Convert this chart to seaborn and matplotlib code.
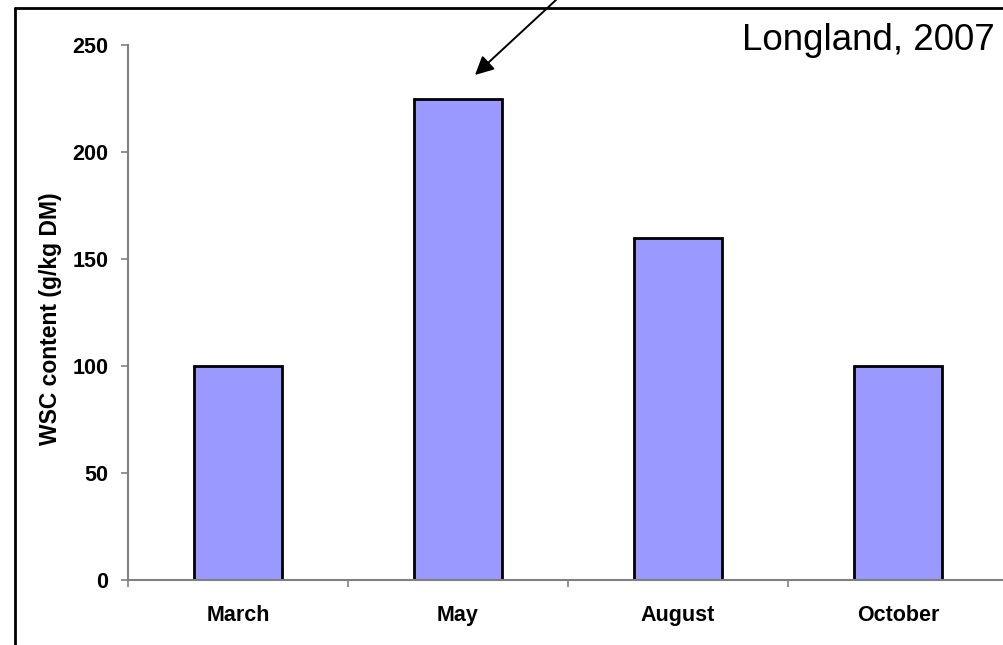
import matplotlib
matplotlib.use("Agg")
import matplotlib.pyplot as plt
from matplotlib.lines import Line2D
from matplotlib.ticker import FixedLocator
import seaborn as sns
import pandas as pd

months = ["March", "May", "August", "October"]
wsc = [100, 225, 160, 100]
y_ticks = [0, 50, 100, 150, 200, 250]

sns.set_theme(style="white")
plt.rcParams["font.family"] = ["Liberation Sans", "DejaVu Sans"]

W, H = 1004, 645
fig = plt.figure(figsize=(W / 100, H / 100), dpi=100)
ax = fig.add_axes([128 / W, 1 - 580 / H, 880 / W, 535 / H])

df = pd.DataFrame({"month": months, "wsc": wsc})
sns.barplot(data=df, x="month", y="wsc", color="#9999ff", saturation=1,
            width=0.4, edgecolor="black", linewidth=2, ax=ax)

ax.set_xlim(-0.5, 3.5)
ax.set_ylim(0, 250)
ax.set_yticks(y_ticks)
ax.set_yticklabels([str(t) for t in y_ticks], fontsize=15.5, fontweight="bold")
ax.set_xticks(range(len(months)))
ax.set_xticklabels(months, fontsize=15.5, fontweight="bold")
ax.xaxis.set_minor_locator(FixedLocator([-0.5, 0.5, 1.5, 2.5, 3.5]))

gray = "#808080"
for side in ("top", "right"):
    ax.spines[side].set_visible(False)
for side in ("left", "bottom"):
    ax.spines[side].set_color(gray)
    ax.spines[side].set_linewidth(1.5)

ax.tick_params(axis="y", which="major", left=True, length=5, width=1.2,
               color=gray, pad=9, labelcolor="black")
ax.tick_params(axis="x", which="major", bottom=True, length=0, pad=18,
               labelcolor="black")
ax.tick_params(axis="x", which="minor", bottom=True, length=5, width=1.2,
               color=gray)

ax.set_xlabel("")
ax.set_ylabel("WSC content (g/kg DM)", fontsize=16.5, fontweight="bold",
              color="black")
ax.yaxis.set_label_coords((62 - 128) / 880, 0.488)

# Outer frame lines along the left and top edges
fig.add_artist(Line2D([15 / W, 15 / W], [0, 1 - 8 / H], color="black",
                      linewidth=2, transform=fig.transFigure))
fig.add_artist(Line2D([15 / W, 1], [1 - 8 / H, 1 - 8 / H], color="black",
                      linewidth=2, transform=fig.transFigure))

fig.text(995 / W, 1 - 41 / H, "Longland, 2007", fontsize=26.5,
         ha="right", va="center", color="black")

ax.annotate("", xy=(475 / W, 1 - 75 / H), xycoords="figure fraction",
            xytext=(556 / W, 1.0), textcoords="figure fraction",
            arrowprops=dict(arrowstyle="-|>", color="black", lw=1.4,
                            mutation_scale=28, shrinkA=0, shrinkB=0),
            annotation_clip=False)

fig.savefig("out.png", dpi=100, facecolor="white")
